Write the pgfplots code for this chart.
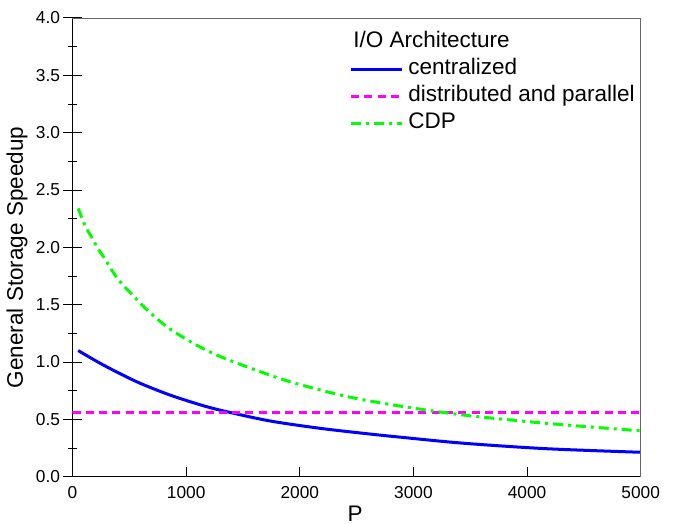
\documentclass[border=0pt]{standalone}
\usepackage{fontspec}
\setmainfont{Liberation Sans}
\usepackage{pgfplots}
\pgfplotsset{compat=1.18}
\usetikzlibrary{calc}
\definecolor{cblue}{RGB}{0,0,255}
\definecolor{cmag}{RGB}{255,0,255}
\definecolor{cgreen}{RGB}{0,255,0}
\begin{document}
\begin{tikzpicture}
\begin{axis}[
  scale only axis, width=568.2pt, height=458.7pt,
  xmin=0, xmax=5000, ymin=0, ymax=4,
  axis lines=left, axis line style={-, line width=1pt},
  tick style={black, line width=1pt},
  tick align=center, major tick length=18pt, minor tick length=9pt,
  ytick={0,0.5,...,4}, minor y tick num=1,
  xtick=\empty, minor xtick={500,1500,2500,3500,4500},
  extra x ticks={0,1000,2000,3000,4000,5000},
  extra x tick style={major tick length=10pt, tick align=inside},
  /pgf/number format/assume math mode=true,
  scaled x ticks=false,
  xticklabel style={font=\fontsize{17.3}{20}\selectfont, /pgf/number format/1000 sep={}, yshift=-6pt},
  yticklabel style={font=\fontsize{17.3}{20}\selectfont, /pgf/number format/.cd, fixed, fixed zerofill, precision=1},
  legend style={draw=none, fill=none, at={(0.487,0.970)}, anchor=north west, inner sep=0pt,
    font=\fontsize{22.5}{26}\selectfont, row sep=6pt, column sep=5pt,
    nodes={text height=16pt, text depth=5pt, inner sep=0pt}},
  legend cell align=left,
  legend image code/.code={\draw[#1] (0pt,0pt) -- (51pt,0pt);},
]
\addlegendimage{empty legend}
\addlegendentry{\hspace*{-55pt}I/O Architecture}
\addplot[cblue, line width=3pt, smooth, tension=0.5] coordinates {
(50,1.10) (271,0.974) (565,0.828) (858,0.712) (1151,0.619) (1357,0.567) (1738,0.486) (2178,0.422) (2618,0.372) (2882,0.345) (3439,0.292) (4172,0.244) (5000,0.213)};
\addlegendentry{centralized}
\addplot[cmag, line width=3pt, dash pattern=on 8pt off 5.3pt] coordinates {(0,0.56) (5000,0.56)};
\addlegendentry{distributed and parallel}
\addplot[cgreen, line width=3pt, smooth, tension=0.5, dash pattern=on 10pt off 5pt on 3pt off 5pt] coordinates {
(50,2.34) (110,2.19) (169,2.087) (227,1.985) (292,1.889) (354,1.787) (438,1.677) (530,1.584) (629,1.48) (829,1.308) (1063,1.163) (1269,1.061) (1533,0.959) (1914,0.828) (2413,0.700) (2882,0.616) (3439,0.538) (4172,0.465) (5000,0.40)};
\addlegendentry{CDP}
\coordinate (ll) at (rel axis cs:0,0);
\coordinate (ur) at (rel axis cs:1,1);
\end{axis}
\draw[black!60, line width=0.8pt] (ll |- ur) -- (ur) -- (ur |- ll);
\node[rotate=90, font=\fontsize{22.5}{26}\selectfont] at ($(ll)!0.478!(ll |- ur)+(-55.5pt,0)$) {General Storage Speedup};
\node[font=\fontsize{22.5}{26}\selectfont] at ($(ll)!0.4975!(ur |- ll)+(0,-37.5pt)$) {P};
\pgfresetboundingbox
\path ([shift={(-72.5pt,-47.3pt)}]ll) rectangle ([shift={(36.3pt,18pt)}]ur);
\end{tikzpicture}
\end{document}
